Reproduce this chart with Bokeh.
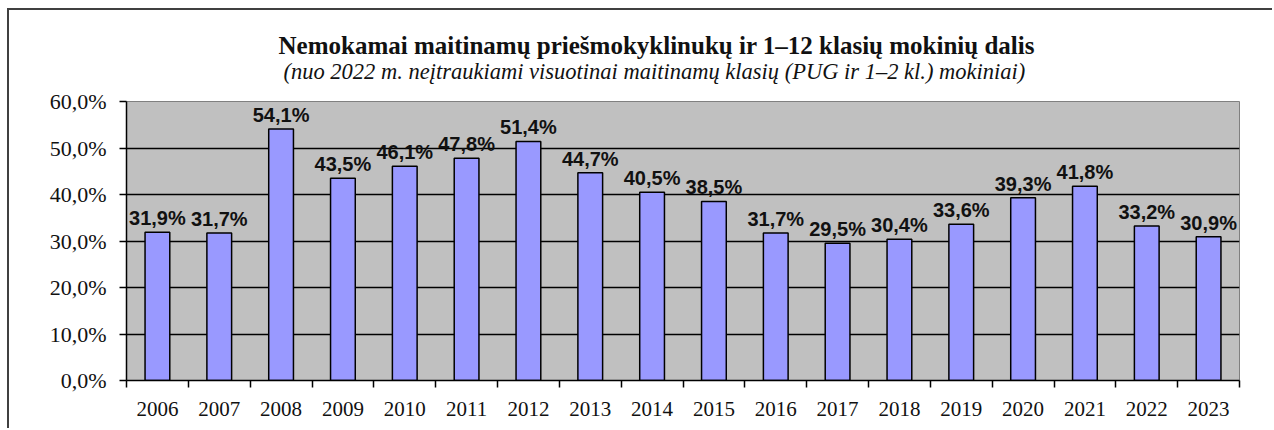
from bokeh.plotting import figure
from bokeh.models import Range1d, FixedTicker, Title, ColumnDataSource
from bokeh.core.properties import value
from bokeh.embed import file_html
from bokeh.resources import INLINE

years = [2006, 2007, 2008, 2009, 2010, 2011, 2012, 2013, 2014, 2015,
         2016, 2017, 2018, 2019, 2020, 2021, 2022, 2023]
shares = [31.9, 31.7, 54.1, 43.5, 46.1, 47.8, 51.4, 44.7, 40.5, 38.5,
          31.7, 29.5, 30.4, 33.6, 39.3, 41.8, 33.2, 30.9]
y_ticks = [0, 10, 20, 30, 40, 50, 60]
y_tick_labels = ["0,0%", "10,0%", "20,0%", "30,0%", "40,0%", "50,0%", "60,0%"]
title_text = "Nemokamai maitinamų priešmokyklinukų ir 1–12 klasių mokinių dalis"
subtitle_text = "(nuo 2022 m. neįtraukiami visuotinai maitinamų klasių (PUG ir 1–2 kl.) mokiniai)"

bar_labels = [f"{v:.1f}".replace(".", ",") + "%" for v in shares]
src = ColumnDataSource(dict(x=years, top=shares, label=bar_labels))

W, H = 1265, 420
p = figure(width=W, height=H, output_backend="svg", toolbar_location=None,
           x_range=Range1d(years[0] - 0.5, years[-1] + 0.5),
           y_range=Range1d(0, 60),
           min_border_left=117, min_border_right=35,
           min_border_top=91, min_border_bottom=50)
p.styles = {"margin-top": "8px", "margin-left": "7px",
            "border-top": "2px solid #404040", "border-left": "2px solid #404040"}

p.background_fill_color = "#C0C0C0"
p.border_fill_color = "white"
p.outline_line_color = "#808080"
p.outline_line_width = 1

p.vbar(x="x", top="top", width=0.4, bottom=0, source=src,
       fill_color="#9999FF", line_color="black", line_width=1.5)

p.text(x="x", y="top", text="label", source=src,
       text_align="center", text_baseline="bottom", y_offset=-3,
       text_font=value("Liberation Sans"), text_font_style="bold",
       text_font_size="20px", text_color="#111111")

# axes
p.xgrid.grid_line_color = None
p.ygrid.grid_line_color = "black"
p.ygrid.grid_line_width = 1.5
p.ygrid.ticker = FixedTicker(ticks=y_ticks)

p.yaxis.ticker = FixedTicker(ticks=y_ticks)
p.yaxis.major_label_overrides = {t: l for t, l in zip(y_ticks, y_tick_labels)}
p.yaxis.major_tick_in = 0
p.yaxis.major_tick_out = 7
p.yaxis.major_tick_line_width = 1.5
p.yaxis.minor_tick_line_color = None
p.yaxis.axis_line_width = 1.5
p.yaxis.major_label_text_font = "Liberation Serif"
p.yaxis.major_label_text_font_size = "22px"
p.yaxis.major_label_text_color = "#111111"
p.yaxis.major_label_standoff = 13

boundaries = [y - 0.5 for y in years] + [years[-1] + 0.5]
p.xaxis.ticker = FixedTicker(ticks=years, minor_ticks=boundaries)
p.xaxis.major_label_overrides = {y: str(y) for y in years}
p.xaxis.major_tick_line_color = None
p.xaxis.minor_tick_in = 0
p.xaxis.minor_tick_out = 7
p.xaxis.minor_tick_line_width = 1.5
p.xaxis.minor_tick_line_color = "black"
p.xaxis.axis_line_width = 1.5
p.xaxis.major_label_text_font = "Liberation Serif"
p.xaxis.major_label_text_font_size = "21px"
p.xaxis.major_label_text_color = "#111111"
p.xaxis.major_label_standoff = 14

# titles: subtitle added first so it sits nearest the plot area
p.add_layout(Title(text=subtitle_text, align="left", offset=157, standoff=36,
                   vertical_align="bottom",
                   text_font="Liberation Serif", text_font_style="italic",
                   text_font_size="22.5px", text_color="#111111"), "above")
p.add_layout(Title(text=title_text, align="left", offset=152, standoff=-40,
                   vertical_align="bottom",
                   text_font="Liberation Serif", text_font_style="bold",
                   text_font_size="25px", text_color="#111111"), "above")

open("out.html", "w").write(file_html(p, INLINE))
